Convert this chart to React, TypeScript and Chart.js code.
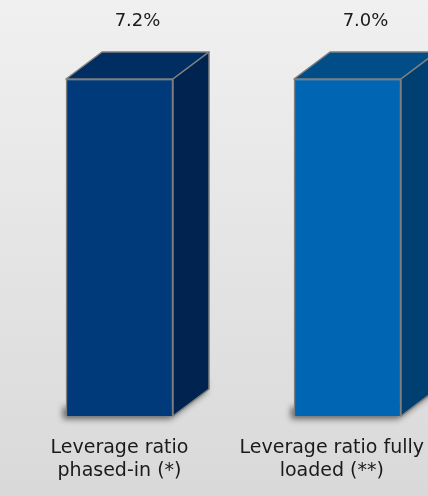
import React, { useEffect, useRef } from 'react';
import { Chart, registerables } from 'chart.js';

Chart.register(...registerables);

const categories = ['Leverage ratio phased-in (*)', 'Leverage ratio fully loaded (**)'];
const categoryLines = [
  ['Leverage ratio', 'phased-in (*)'],
  ['Leverage ratio fully', 'loaded (**)'],
];
const values = [7.2, 7.0];
const valueLabels = ['7.2%', '7.0%'];

const frontColors = ['#003a7a', '#0066b3'];
const topColors = ['#002d62', '#004d88'];
const sideColors = ['#00244f', '#003f72'];
const edgeColor = '#7f7f7f';
const DX = 36;
const DY = -27;
const VALUE_FONT = '18px "DejaVu Sans"';
const CAT_FONT = '19px "DejaVu Sans"';

const cubePlugin = {
  id: 'cube3d',
  beforeDatasetsDraw(chart: any) {
    const ctx = chart.ctx;
    chart.data.datasets.forEach((ds: any, i: number) => {
      const meta = chart.getDatasetMeta(i);
      meta.data.forEach((bar: any, j: number) => {
        if (ds.data[j] == null) return;
        const p = bar.getProps(['x', 'y', 'base', 'width'], true);
        const l = p.x - p.width / 2;
        const r = p.x + p.width / 2;
        const b = p.base;
        ctx.save();
        ctx.shadowColor = 'rgba(0,0,0,0.55)';
        ctx.shadowBlur = 6;
        ctx.shadowOffsetX = -3;
        ctx.shadowOffsetY = 3;
        ctx.fillStyle = '#333';
        ctx.beginPath();
        ctx.moveTo(l, b - 12);
        ctx.lineTo(r, b - 12);
        ctx.lineTo(r + DX, b + DY - 12);
        ctx.lineTo(r + DX, b + DY);
        ctx.lineTo(r, b);
        ctx.lineTo(l, b);
        ctx.closePath();
        ctx.fill();
        ctx.restore();
      });
    });
  },
  afterDatasetsDraw(chart: any) {
    const ctx = chart.ctx;
    const W = chart.width;
    chart.data.datasets.forEach((ds: any, i: number) => {
      const meta = chart.getDatasetMeta(i);
      meta.data.forEach((bar: any, j: number) => {
        if (ds.data[j] == null) return;
        const p = bar.getProps(['x', 'y', 'base', 'width'], true);
        const l = p.x - p.width / 2;
        const r = p.x + p.width / 2;
        const t = p.y;
        const b = p.base;
        ctx.save();
        ctx.lineWidth = 1.5;
        ctx.strokeStyle = edgeColor;
        ctx.lineJoin = 'round';
        // top face
        ctx.beginPath();
        ctx.moveTo(l, t);
        ctx.lineTo(l + DX, t + DY);
        ctx.lineTo(r + DX, t + DY);
        ctx.lineTo(r, t);
        ctx.closePath();
        ctx.fillStyle = topColors[j];
        ctx.fill();
        ctx.stroke();
        // side face
        ctx.beginPath();
        ctx.moveTo(r, t);
        ctx.lineTo(r + DX, t + DY);
        ctx.lineTo(r + DX, b + DY);
        ctx.lineTo(r, b);
        ctx.closePath();
        ctx.fillStyle = sideColors[j];
        ctx.fill();
        ctx.stroke();
        // value label
        ctx.font = VALUE_FONT;
        ctx.fillStyle = '#1a1a1a';
        ctx.textAlign = 'center';
        ctx.textBaseline = 'middle';
        ctx.fillText(valueLabels[j], p.x + DX / 2, t + DY - 31);
        // category label
        ctx.font = CAT_FONT;
        const lines = categoryLines[j];
        const maxW = Math.max(...lines.map((s) => ctx.measureText(s).width));
        const cx = Math.min(Math.max(p.x, maxW / 2 + 2), W - maxW / 2 - 4);
        lines.forEach((s, k) => {
          ctx.fillText(s, cx, b + 32 + k * 23);
        });
        ctx.restore();
      });
    });
  },
};

export default function App() {
  const ref = useRef<HTMLCanvasElement | null>(null);
  useEffect(() => {
    document.body.style.margin = '0';
    if (!ref.current) return;
    const scales: any = {
      x: { type: 'category', labels: categories, offset: false, display: false },
    };
    values.forEach((v, i) => {
      scales['y' + i] = { type: 'linear', display: false, min: 0, max: v };
    });
    const chart = new Chart(ref.current, {
      type: 'bar',
      data: {
        labels: categories,
        datasets: values.map((v, i) => ({
          label: categories[i],
          data: values.map((vv, j) => (j === i ? vv : null)),
          yAxisID: 'y' + i,
          backgroundColor: frontColors[i],
          borderColor: edgeColor,
          borderWidth: 1.5,
          barThickness: 107,
          grouped: false,
          clip: false as any,
        })),
      },
      options: {
        animation: false,
        responsive: true,
        maintainAspectRatio: false,
        layout: { padding: { left: 119.5, right: 80.5, top: 79, bottom: 80 } },
        plugins: { legend: { display: false }, tooltip: { enabled: false } },
        scales,
      },
      plugins: [cubePlugin],
    });
    return () => chart.destroy();
  }, []);
  return (
    <div
      style={{
        width: 428,
        height: 496,
        position: 'relative',
        background: 'linear-gradient(to bottom, #f0f0f0 0%, #d9d9d9 100%)',
      }}
    >
      <canvas ref={ref} />
    </div>
  );
}
